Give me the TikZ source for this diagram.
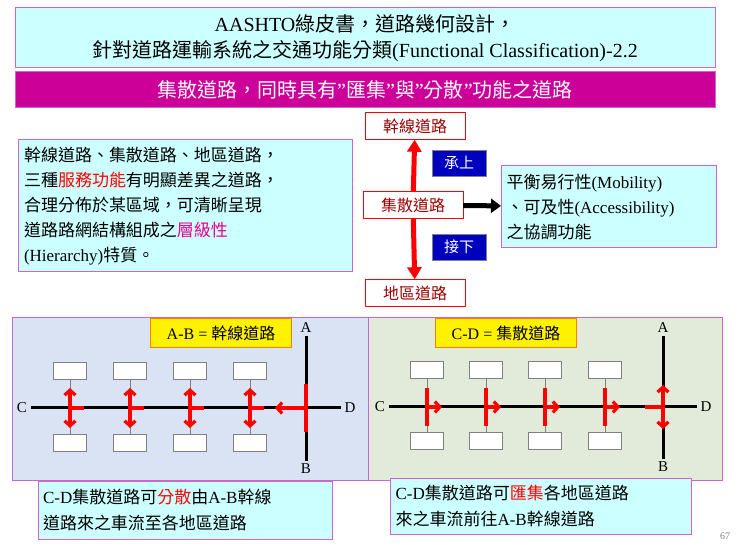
\documentclass[tikz,border=0pt]{standalone}
\usepackage{fontspec}
\setmainfont{Liberation Serif}
\newfontfamily\cjk{Noto Sans CJK TC}
\usetikzlibrary{arrows,arrows.meta,calc}
\newcommand{\zh}[1]{{\cjk #1}}
\definecolor{titlecyan}{HTML}{CCFFFF}
\definecolor{barmag}{HTML}{CC0099}
\definecolor{panelblue}{HTML}{DAE3F3}
\definecolor{panelgreen}{HTML}{E2EBD9}
\definecolor{framevio}{HTML}{CC66CC}
\definecolor{darkred}{HTML}{990000}
\tikzset{
    frame/.style = {draw=framevio, line width=1pt, rectangle, inner sep=2pt},
    road/.style = {draw, line width=3pt},
    redarr/.style = {draw=red, line width=3.2pt, -{Straight Barb[length=5pt,width=11pt]}},
    redline/.style = {draw=red, line width=3.2pt},
    lot/.style = {draw=gray, fill=white, rectangle, minimum width=33pt, minimum height=17pt},
    ends/.style = {font=\fontsize{15}{17}\selectfont},
    tag/.style = {draw=orange, fill=yellow, rectangle, minimum width=141pt, minimum height=29pt, font=\fontsize{16}{18}\selectfont},
    hint/.style = {draw=gray, fill=blue!75!black, text=white, minimum width=54pt, minimum height=26pt, font=\fontsize{15}{17}\selectfont},
    level/.style = {draw=red, fill=white, text=darkred, minimum width=100pt, minimum height=27pt, font=\fontsize{16}{18}\selectfont}
}
\begin{document}
\begin{tikzpicture}[x=1pt,y=-1pt]
            \useasboundingbox (0,0) rectangle (740,556);
            % heading
            \node[frame, fill=titlecyan, minimum width=700pt, minimum height=60pt, align=center,
                font=\fontsize{20}{26}\selectfont] (title) at (365,38)
                {AASHTO\zh{綠皮書，道路幾何設計，}\\\zh{針對道路運輸系統之交通功能分類}(Functional Classification)-2.2};
            \node[frame, fill=barmag, text=white, minimum width=700pt, minimum height=36pt,
                font=\fontsize{20}{22}\selectfont] (bar) at (365,90)
                {\zh{集散道路，同時具有}"\zh{匯集}"\zh{與}"\zh{分散}"\zh{功能之道路}};
            % middle
            \node[frame, fill=titlecyan, minimum width=334pt, minimum height=132pt, text width=322pt, align=left,
                font=\fontsize{17}{25}\selectfont] (note) at (185,206)
                {\zh{幹線道路、集散道路、地區道路，}\\\zh{三種\textcolor{red}{服務功能}有明顯差異之道路，}\\
                 \zh{合理分佈於某區域，可清晰呈現}\\\zh{道路路網結構組成之\textcolor{magenta}{層級性}}\\(Hierarchy)\zh{特質。}};
            \node[level] (art) at (415,126) {\zh{幹線道路}};
            \node[level] (col) at (413,205) {\zh{集散道路}};
            \node[level] (loc) at (415,293) {\zh{地區道路}};
            \node[hint] (up) at (459,163) {\zh{承上}};
            \node[hint] (down) at (459,247) {\zh{接下}};
            \node[frame, fill=titlecyan, minimum width=215pt, minimum height=82pt, text width=205pt, align=left,
                font=\fontsize{17}{25}\selectfont] (role) at (609,207)
                {\zh{平衡易行性}(Mobility)\\\zh{、可及性}(Accessibility)\\\zh{之協調功能}};
            \draw[draw=red, line width=5pt, -{Triangle[length=12pt,width=14pt]}] (col) -- (art);
            \draw[draw=red, line width=5pt, -{Triangle[length=12pt,width=14pt]}] (col) -- (loc);
            \draw[line width=5pt, -{Triangle[length=10pt,width=14pt]}] (col) -- (role);
            % left panel: arterial
            \node[frame, fill=panelblue, minimum width=356pt, minimum height=162pt] (pl) at (190,399) {};
            \node[tag] (tagl) at (221,333) {A-B = \zh{幹線道路}};
            \node[ends] (lC) at (22,408) {C};
            \node[ends] (lD) at (350,408) {D};
            \node[ends] (lA) at (306,328) {A};
            \node[ends] (lB) at (306,469) {B};
            \draw[road] (lC) -- (lD);
            \draw[road] (lA) -- (lB);
            \foreach \i/\px in {1/70,2/130,3/190,4/250} {
                \node[lot] (lt\i) at (\px,371) {};
                \node[lot] (lb\i) at (\px,443) {};
                \draw[gray] (lt\i) -- (lb\i);
                \coordinate (lj\i) at (\px,408);
                \draw[redline] (lj\i) -- ++(14,0);
                \draw[redarr] (lj\i) -- ++(0,-20);
                \draw[redarr] (lj\i) -- ++(0,20);
            }
            \coordinate (lx) at (306,408);
            \draw[redline] ($(lx)+(0,-24)$) -- ($(lx)+(0,24)$);
            \draw[redarr] (lx) -- ++(-31,0);
            % right panel: collector
            \node[frame, fill=panelgreen, minimum width=354pt, minimum height=162pt] (pr) at (545,399) {};
            \node[tag] (tagr) at (506,333) {C-D = \zh{集散道路}};
            \node[ends] (rC) at (380,407) {C};
            \node[ends] (rD) at (706,407) {D};
            \node[ends] (rA) at (663,328) {A};
            \node[ends] (rB) at (663,467) {B};
            \draw[road] (rC) -- (rD);
            \draw[road] (rA) -- (rB);
            \foreach \i/\px in {1/427,2/486,3/545,4/605} {
                \node[lot] (rt\i) at (\px,370) {};
                \node[lot] (rb\i) at (\px,441) {};
                \draw[gray] (rt\i) -- (rb\i);
                \coordinate (rj\i) at (\px,407);
                \draw[redline] ($(rj\i)+(0,-19)$) -- ($(rj\i)+(0,19)$);
                \draw[redarr] (rj\i) -- ++(15,0);
            }
            \coordinate (rx) at (663,407);
            \draw[redline] ($(rx)+(-18,0)$) -- (rx);
            \draw[redarr] (rx) -- ++(0,-22);
            \draw[redarr] (rx) -- ++(0,22);
            % captions
            \node[frame, fill=titlecyan, minimum width=294pt, minimum height=58pt, text width=284pt, align=left,
                font=\fontsize{17}{26}\selectfont] (capl) at (185,510)
                {C-D\zh{集散道路可\textcolor{red}{分散}由}A-B\zh{幹線}\\\zh{道路來之車流至各地區道路}};
            \node[frame, fill=titlecyan, minimum width=301pt, minimum height=56pt, text width=291pt, align=left,
                font=\fontsize{17}{26}\selectfont] (capr) at (541,506)
                {C-D\zh{集散道路可\textcolor{red}{匯集}各地區道路}\\\zh{來之車流前往}A-B\zh{幹線道路}};
            \node[gray, font=\fontsize{10}{12}\selectfont] (page) at (725,536) {67};
        \end{tikzpicture}
\end{document}
